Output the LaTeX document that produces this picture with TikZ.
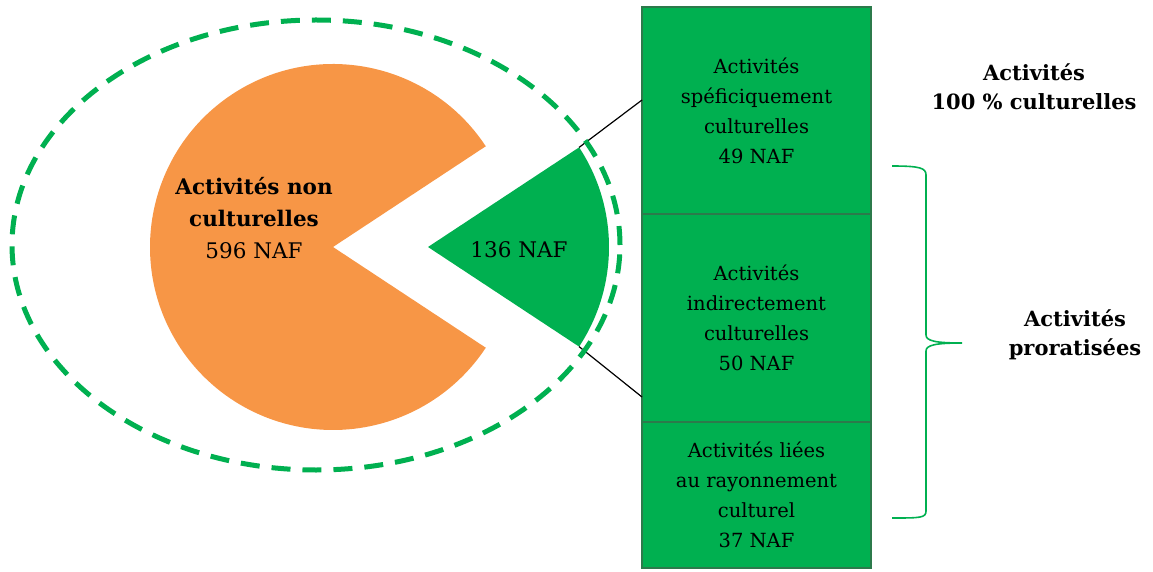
\documentclass[tikz,border=0pt]{standalone}
\usepackage{fontspec}
\setmainfont{DejaVu Serif}
\usetikzlibrary{positioning}
\definecolor{naforange}{HTML}{F79646}
\definecolor{nafgreen}{HTML}{00B050}
\definecolor{boxedge}{HTML}{2C7A4B}

\begin{document}
\begin{tikzpicture}[x=1pt,y=1pt,
    catbox/.style={draw=boxedge, line width=1.2pt, fill=nafgreen, minimum width=229pt,
      inner sep=0pt, outer sep=0pt, align=center, font=\fontsize{19.5}{30}\selectfont},
    lbl/.style={align=center, inner sep=0pt, font=\fontsize{21}{30}\selectfont},
    boldlbl/.style={lbl, font=\fontsize{21}{29.5}\selectfont\bfseries},
    bigcircle/.style={draw=nafgreen, line width=5pt, dash pattern=on 19pt off 12pt},
    brace/.style={draw=nafgreen, line width=1.6pt}]
    \useasboundingbox (0,0) rectangle (1153,571);

    % pie
    \coordinate (oc) at (333,324);
    \coordinate (gc) at (428,324);
    \fill[naforange] (oc) -- ++(33.4:183) arc[start angle=33.4, end angle=326.6, radius=183] -- cycle;
    \fill[nafgreen] (gc) -- ++(-33.4:181) arc[start angle=-33.4, end angle=33.4, radius=181] -- cycle;
    \path (gc) ++(33.4:181) coordinate (gtop);
    \path (gc) ++(-33.4:181) coordinate (gbot);
    \node[lbl, font=\fontsize{21.5}{32}\selectfont] (noncult) at (254,353)
      {\textbf{Activités non}\\\textbf{culturelles}\\596 NAF};
    \node[lbl, font=\fontsize{21.5}{30}\selectfont] (cult) at (519,321) {136 NAF};

    % boxes
    \node[catbox, minimum height=207pt] (spec) at (756.5,460.5)
      {Activités\\spéficiquement\\culturelles\\49 NAF};
    \node[catbox, minimum height=208pt, below=0pt of spec] (indir)
      {Activités\\indirectement\\culturelles\\50 NAF};
    \node[catbox, minimum height=146pt, below=0pt of indir] (rayon)
      {Activités liées\\au rayonnement\\culturel\\37 NAF};

    \draw[line width=1.2pt] (gtop) -- ([yshift=10.5pt]spec.west);
    \draw[line width=1.2pt] (gbot) -- ([yshift=-79pt]indir.west);

    \draw[bigcircle] (316,326) ellipse[x radius=304, y radius=225];

    % brace
    \draw[brace] (892,405) .. controls (920,405) and (926,403) .. (926,396) -- (926,236)
      .. controls (926,230) and (936,228) .. (962,228)
      .. controls (936,228) and (926,226) .. (926,220) -- (926,60)
      .. controls (926,53) and (920,53) .. (892,53);

    \node[boldlbl] (full) at (1034,484) {Activités\\100 \% culturelles};
    \node[boldlbl] (prorata) at (1075,236) {Activités\\proratisées};
\end{tikzpicture}
\end{document}
